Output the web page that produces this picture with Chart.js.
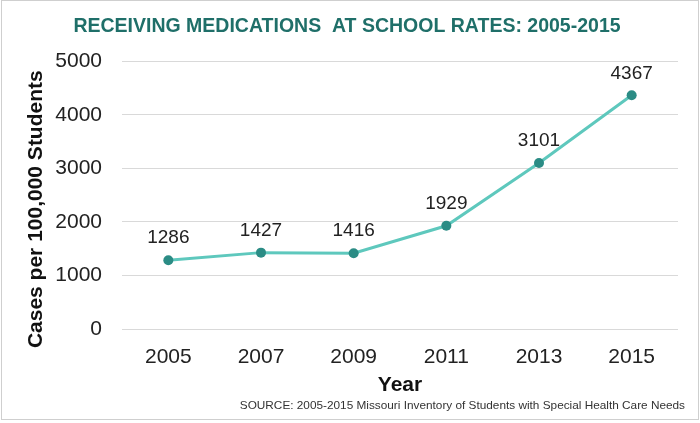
<!DOCTYPE html>
<html>
<head>
<meta charset="utf-8">
<script src="https://cdn.jsdelivr.net/npm/chart.js@4"></script>
<style>
  html, body { margin: 0; padding: 0; background: #ffffff; }
  #wrap { position: relative; width: 700px; height: 423px; }
  #frame { position: absolute; left: 1px; top: 0px; width: 696px; height: 418px; border: 1px solid #cfcfcf; }
  canvas { position: absolute; left: 0; top: 0; }
</style>
</head>
<body>
<div id="wrap">
  <div id="frame"></div>
  <canvas id="c" width="700" height="423"></canvas>
</div>
<script>
const years = ['2005', '2007', '2009', '2011', '2013', '2015'];
const rates = [1286, 1427, 1416, 1929, 3101, 4367];
const yTicks = [0, 1000, 2000, 3000, 4000, 5000];
const chartTitle = 'RECEIVING MEDICATIONS  AT SCHOOL RATES: 2005-2015';
const yTitle = 'Cases per 100,000 Students';
const xTitle = 'Year';
const sourceText = 'SOURCE: 2005-2015 Missouri Inventory of Students with Special Health Care Needs';

const FONT = "'Liberation Sans', Arial, sans-serif";

const valueLabels = {
  id: 'valueLabels',
  afterDatasetsDraw(chart) {
    const ctx = chart.ctx;
    const meta = chart.getDatasetMeta(0);
    ctx.save();
    ctx.font = '19px ' + FONT;
    ctx.fillStyle = '#222222';
    ctx.textAlign = 'center';
    ctx.textBaseline = 'middle';
    meta.data.forEach((pt, i) => {
      ctx.fillText(String(chart.data.datasets[0].data[i]), pt.x, pt.y - 22);
    });
    ctx.restore();
  }
};

const extraText = {
  id: 'extraText',
  afterDraw(chart) {
    const ctx = chart.ctx;
    const area = chart.chartArea;
    ctx.save();
    ctx.font = 'bold 21px ' + FONT;
    ctx.fillStyle = '#111111';
    ctx.textAlign = 'center';
    ctx.textBaseline = 'middle';
    ctx.translate(36, (area.top + area.bottom) / 2 + 14);
    ctx.rotate(-Math.PI / 2);
    ctx.fillText(yTitle, 0, 0);
    ctx.restore();

    ctx.save();
    ctx.font = '11.8px ' + FONT;
    ctx.fillStyle = '#333333';
    ctx.textAlign = 'right';
    ctx.textBaseline = 'middle';
    ctx.fillText(sourceText, 685, area.bottom + 77);
    ctx.restore();
  }
};

new Chart(document.getElementById('c'), {
  type: 'line',
  data: {
    labels: years,
    datasets: [{
      data: rates,
      borderColor: '#5ec8bd',
      borderWidth: 3,
      backgroundColor: '#2b8c85',
      pointBackgroundColor: '#2b8c85',
      pointBorderWidth: 0,
      pointRadius: 5,
      tension: 0,
      fill: false
    }]
  },
  options: {
    responsive: false,
    animation: false,
    devicePixelRatio: 1,
    layout: { padding: { left: 16, right: 22, top: 0, bottom: 25 } },
    plugins: {
      legend: { display: false },
      tooltip: { enabled: false },
      title: {
        display: true,
        text: chartTitle,
        color: '#1f6f69',
        font: { family: FONT, size: 19.5, weight: 'bold' },
        padding: { top: 15, bottom: 23 }
      }
    },
    scales: {
      x: {
        offset: true,
        afterFit(scale) { scale.height = 69; },
        grid: { display: false, drawTicks: false },
        border: { display: false },
        ticks: { color: '#222222', font: { family: FONT, size: 21 }, padding: 16, maxRotation: 0 },
        title: { display: true, text: xTitle, color: '#111111', font: { family: FONT, size: 21, weight: 'bold' }, padding: { top: 0, bottom: 0 } }
      },
      y: {
        min: 0,
        max: 5000,
        afterBuildTicks(scale) { scale.ticks = yTicks.map(v => ({ value: v })); },
        afterFit(scale) { scale.width = 106; },
        grid: { color: '#d9d9d9', lineWidth: 1, drawTicks: false },
        border: { display: false },
        ticks: { color: '#222222', font: { family: FONT, size: 21 }, padding: 20, callback: v => String(v) }
      }
    }
  },
  plugins: [valueLabels, extraText]
});
</script>
</body>
</html>
